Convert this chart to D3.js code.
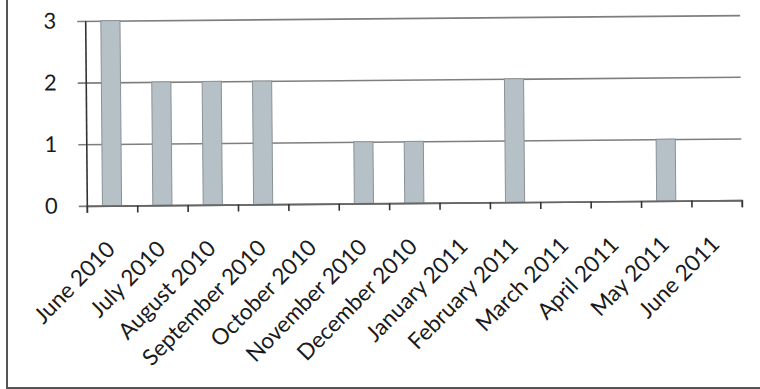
<!DOCTYPE html>
<html>
<head>
<meta charset="utf-8">
<script src="https://cdn.jsdelivr.net/npm/d3@7"></script>
<style>
  html, body { margin: 0; padding: 0; background: #fff; }
  svg { display: block; }
</style>
</head>
<body>
<div id="chart"></div>
<script>
// ── Data ───────────────────────────────────────────────
const months = ['June 2010', 'July 2010', 'August 2010', 'September 2010', 'October 2010',
  'November 2010', 'December 2010', 'January 2011', 'February 2011', 'March 2011',
  'April 2011', 'May 2011', 'June 2011'];
const counts = [3, 2, 2, 2, 0, 1, 1, 0, 2, 0, 0, 1, 0];
const yTicks = [0, 1, 2, 3];

const W = 760, H = 389;
const plot = { left: 86, right: 741, top: 18, bottom: 203 };
const font = "Lato, 'Open Sans', sans-serif";

const svg = d3.select('#chart').append('svg')
  .attr('width', W).attr('height', H);

// outer frame (scan shows only left + bottom edges)
svg.append('rect')
  .attr('x', 7).attr('y', -10)
  .attr('width', 780).attr('height', 398)
  .attr('fill', 'none').attr('stroke', '#555').attr('stroke-width', 2);

// scanned page is slightly tilted
const g = svg.append('g')
  .attr('transform', `rotate(-0.5, ${(plot.left + plot.right) / 2}, ${(plot.top + plot.bottom) / 2})`);

const x = d3.scaleBand().domain(months).range([plot.left, plot.right])
  .paddingInner(0.62).paddingOuter(0.31);
const xb = d3.scaleLinear().domain([0, months.length]).range([plot.left, plot.right]);
const y = d3.scaleLinear().domain([0, 3]).range([plot.bottom, plot.top]);

// gridlines
g.append('g')
  .attr('transform', `translate(${plot.right},0)`)
  .call(d3.axisLeft(y).tickValues(yTicks).tickSize(plot.right - plot.left + 8).tickFormat(''))
  .call(s => s.select('.domain').remove())
  .selectAll('line').attr('stroke', '#7e7e7e').attr('stroke-width', 1.6);

// bars
g.selectAll('.bar')
  .data(counts.map((v, i) => ({ m: months[i], v })))
  .enter().append('rect')
  .attr('class', 'bar')
  .attr('x', d => x(d.m))
  .attr('width', x.bandwidth())
  .attr('y', d => y(d.v))
  .attr('height', d => y(0) - y(d.v))
  .attr('fill', '#b6c0c7')
  .attr('stroke', '#8a9296')
  .attr('stroke-width', 1);

// y axis
const yAxis = g.append('g')
  .attr('transform', `translate(${plot.left},0)`)
  .call(d3.axisLeft(y).tickValues(yTicks).tickSize(0).tickPadding(29).tickFormat(d3.format('d')));
yAxis.select('.domain').attr('stroke', '#333').attr('stroke-width', 1.6);
yAxis.selectAll('text')
  .attr('font-family', font).attr('font-size', '22px').attr('fill', '#1a1a1a');

// x axis ticks at category boundaries
const xAxis = g.append('g')
  .attr('transform', `translate(0,${plot.bottom})`)
  .call(d3.axisBottom(xb).tickValues(d3.range(months.length + 1)).tickSize(7).tickFormat(''));
xAxis.select('.domain').attr('stroke', '#666').attr('stroke-width', 1.6);
xAxis.selectAll('line').attr('stroke', '#333').attr('stroke-width', 1.6);

// rotated month labels
g.append('g').selectAll('text')
  .data(months)
  .enter().append('text')
  .attr('transform', d => `translate(${x(d) + x.bandwidth() / 2 + 4},${plot.bottom + 45}) rotate(-45)`)
  .attr('text-anchor', 'end')
  .attr('font-family', font)
  .attr('font-size', '22.5px')
  .attr('fill', '#1a1a1a')
  .text(d => d);
</script>
</body>
</html>
